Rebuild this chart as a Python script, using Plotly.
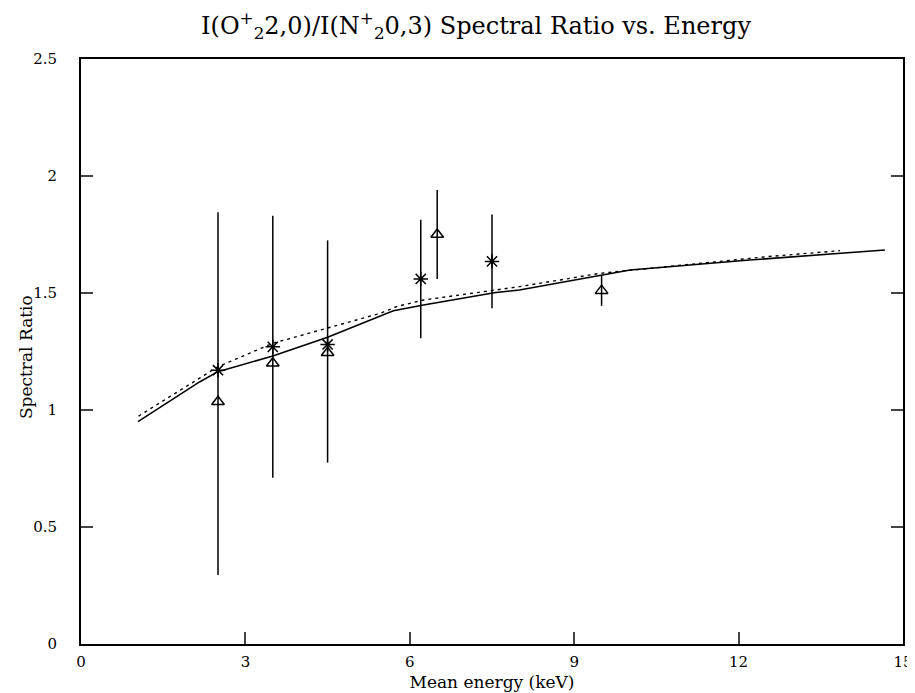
import plotly.graph_objects as go

# Measured data: asterisks
ast_x = [2.5, 3.5, 4.5, 6.2, 7.5]
ast_y = [1.17, 1.27, 1.28, 1.56, 1.635]
ast_err = [0.0, 0.56, 0.0, 0.253, 0.20]

# Measured data: triangles
tri_x = [2.5, 3.5, 4.5, 6.5, 9.5]
tri_y = [1.035, 1.20, 1.245, 1.75, 1.51]
tri_err_plus = [0.81, 0.0, 0.48, 0.19, 0.065]
tri_err_minus = [0.74, 0.0, 0.47, 0.19, 0.065]

# Model curves
solid_x = [1.04, 2.17, 2.5, 3.5, 4.5, 5.46, 5.70, 6.25, 7.54, 8.0, 9.53, 10.02, 12.2, 14.67]
solid_y = [0.95, 1.121, 1.164, 1.231, 1.311, 1.402, 1.424, 1.449, 1.501, 1.513, 1.577, 1.598, 1.641, 1.684]

dash_x = [1.05, 2.17, 2.5, 3.5, 5.46, 5.76, 6.25, 8.0, 9.47, 12.51, 13.85]
dash_y = [0.974, 1.135, 1.185, 1.285, 1.413, 1.442, 1.47, 1.527, 1.584, 1.655, 1.681]

x_ticks = [0, 3, 6, 9, 12, 15]
y_ticks = [0, 0.5, 1, 1.5, 2, 2.5]
y_tick_text = ["0", "0.5", "1", "1.5", "2", "2.5"]

FONT = "DejaVu Serif"
PAD = "\u2007\u2007"

fig = go.Figure()
fig.add_trace(go.Scatter(x=solid_x, y=solid_y, mode="lines",
                         line=dict(color="black", width=1.6), hoverinfo="skip"))
fig.add_trace(go.Scatter(x=dash_x, y=dash_y, mode="lines",
                         line=dict(color="black", width=1.4, dash="3px,4px"), hoverinfo="skip"))
fig.add_trace(go.Scatter(x=ast_x, y=ast_y, mode="markers",
                         marker=dict(symbol="asterisk-open", size=12, color="black",
                                     line=dict(color="black", width=1.5)),
                         error_y=dict(type="data", array=ast_err, visible=True,
                                      color="black", thickness=1.5, width=0)))
fig.add_trace(go.Scatter(x=tri_x, y=tri_y, mode="markers",
                         marker=dict(symbol="triangle-up-open", size=11, color="black",
                                     line=dict(color="black", width=1.5)),
                         error_y=dict(type="data", symmetric=False, array=tri_err_plus,
                                      arrayminus=tri_err_minus, visible=True,
                                      color="black", thickness=1.5, width=0)))

fig.update_layout(
    width=907, height=685,
    margin=dict(l=73, r=12, t=51, b=49, autoexpand=False),
    paper_bgcolor="white", plot_bgcolor="white",
    showlegend=False,
    font=dict(family=FONT, color="black", size=15),
    title=dict(text="I(O<sup>+</sup><sub>2</sub>2,0)/I(N<sup>+</sup><sub>2</sub>0,3) Spectral Ratio vs. Energy",
               x=0.516, xanchor="center", y=0.974, yanchor="middle",
               font=dict(family=FONT, size=24, color="black")),
    xaxis=dict(range=[0, 15], tickvals=x_ticks, ticks="inside", ticklen=12, tickwidth=1.5,
               showline=True, linecolor="black", linewidth=1.5, mirror=True,
               showgrid=False, zeroline=False, automargin=False,
               ticklabelstandoff=3,
               tickfont=dict(family=FONT, size=15),
               title=dict(text="Mean energy (keV)", standoff=6,
                          font=dict(family=FONT, size=17))),
    yaxis=dict(range=[0, 2.5], tickvals=y_ticks, ticktext=[t + PAD for t in y_tick_text],
               ticks="inside", ticklen=12, tickwidth=1.5,
               showline=True, linecolor="black", linewidth=1.5, mirror="ticks",
               showgrid=False, zeroline=False, automargin=False,
               tickfont=dict(family=FONT, size=15)),
    annotations=[dict(text="Spectral Ratio", xref="paper", yref="paper",
                      x=-0.066, y=0.49, xanchor="center", yanchor="middle",
                      textangle=-90, showarrow=False,
                      font=dict(family=FONT, size=17, color="black"))],
)

fig.write_html("out.html")
